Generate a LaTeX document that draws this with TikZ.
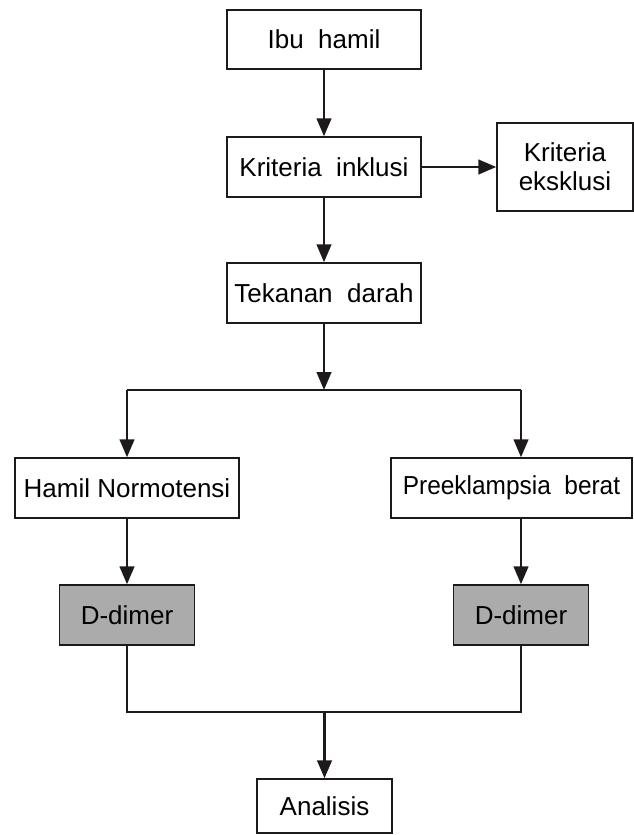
\documentclass[tikz,border=0pt]{standalone}
\usepackage{fontspec}
\setmainfont{Liberation Sans}
\newfontfamily\narrowfont[FakeStretch=0.94]{Liberation Sans}
\usetikzlibrary{arrows.meta}
\definecolor{dimergray}{RGB}{171,171,171}
\definecolor{inkline}{RGB}{30,26,26}

\tikzset{every picture/.style={line width=0.75pt}}
\tikzset{
  flowbox/.style={draw=inkline, line width=1.1pt, inner sep=0pt, align=center,
    minimum width=145.5pt, minimum height=45pt, font=\fontsize{19.5}{23}\selectfont},
  dimerbox/.style={flowbox, fill=dimergray, minimum width=101.25pt},
  flowarrow/.style={draw=inkline, line width=1.8pt, -{Triangle[length=13.5pt,width=11pt]}},
  joinline/.style={draw=inkline, line width=1pt}
}

\begin{document}
\begin{tikzpicture}[x=0.75pt,y=0.75pt,yscale=-1,xscale=1]
\useasboundingbox (0,0) rectangle (634,835);

% Boxes
\node [flowbox, minimum height=44.25pt] (ibu) at (324,39.5) {Ibu\ \ hamil};
\node [flowbox] (inklusi) at (324,167) {Kriteria\ \ inklusi};
\node [flowbox, minimum width=102pt, minimum height=66pt, font=\fontsize{19.5}{22}\selectfont] (eksklusi) at (565,167) {Kriteria\\eksklusi};
\node [flowbox] (tekanan) at (324,293) {Tekanan\ \ darah};
\node [flowbox, minimum width=168pt] (normo) at (127,488) {Hamil Normotensi};
\node [flowbox, minimum width=180.75pt, font=\narrowfont\fontsize{19.5}{23}\selectfont] (preek) at (511.5,488) {Preeklampsia\ \ berat};
\node [dimerbox] (dimerL) at (127,615) {D-dimer};
\node [dimerbox] (dimerR) at (521,615) {D-dimer};
\node [flowbox, minimum width=101.25pt, minimum height=40.5pt] (analisis) at (324.5,806) {Analisis};

% Branch points
\coordinate (split) at (324,390);
\coordinate (splitL) at (127,390);
\coordinate (splitR) at (521,390);
\coordinate (mergeL) at (127,712);
\coordinate (mergeR) at (521,712);
\coordinate (merge) at (324.5,712);

% Connectors
\draw [flowarrow] (ibu) -- (inklusi);
\draw [flowarrow] (inklusi) -- (eksklusi);
\draw [flowarrow] (inklusi) -- (tekanan);
\draw [flowarrow] (tekanan) -- (split);
\draw [joinline, line width=1.8pt] (splitL) -- (splitR);
\draw [flowarrow] (splitL) -- (normo);
\draw [flowarrow] (splitR) -- (splitR |- preek.north);
\draw [flowarrow] (normo) -- (dimerL);
\draw [flowarrow] (splitR |- preek.south) -- (dimerR);
\draw [joinline] (dimerL) -- (mergeL) -- (mergeR) -- (dimerR);
\draw [flowarrow] (merge) -- (analisis);
\end{tikzpicture}
\end{document}
